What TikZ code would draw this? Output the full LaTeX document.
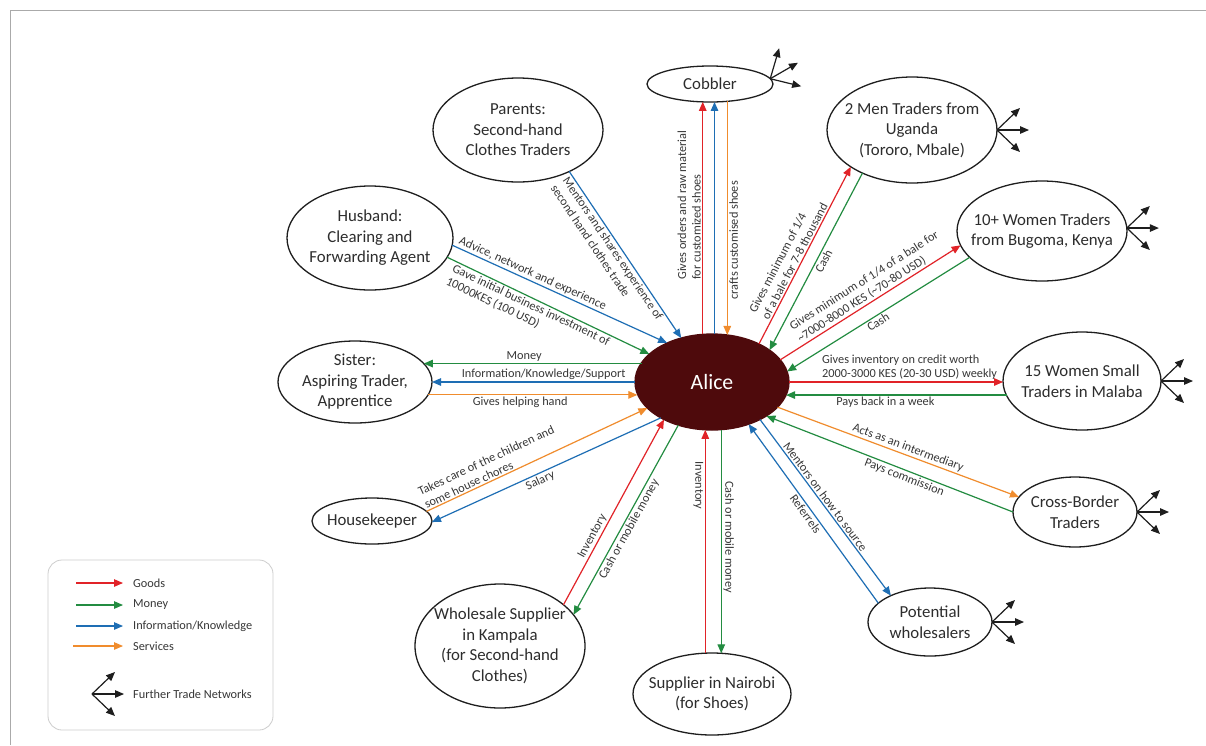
\documentclass[tikz,border=0pt]{standalone}
\usepackage{fontspec}
\setmainfont{Carlito}
\usetikzlibrary{arrows.meta,shapes.geometric,calc}
\definecolor{cgoods}{RGB}{225,35,40}
\definecolor{cmoney}{RGB}{35,140,65}
\definecolor{cinfo}{RGB}{30,110,180}
\definecolor{cserv}{RGB}{240,140,45}
\definecolor{calice}{RGB}{78,10,12}
\definecolor{ctext}{RGB}{45,45,45}
\definecolor{clab}{RGB}{55,55,55}
\definecolor{cframe}{RGB}{170,170,170}
\definecolor{clegend}{RGB}{205,205,205}
\definecolor{coutline}{RGB}{30,30,30}
\tikzset{
  actor/.style={ellipse, draw=coutline, line width=1.3pt, inner xsep=-40pt, inner ysep=-25pt,
    outer sep=0pt, align=center, text=ctext, font=\fontsize{16.8}{20.5}\selectfont},
  flow/.style={line width=1.2pt, -{Triangle[length=9pt,width=7.5pt]}},
  rflow/.style={line width=1.2pt, {Triangle[length=9pt,width=7.5pt]}-},
  goods/.style={draw=cgoods},
  money/.style={draw=cmoney},
  info/.style={draw=cinfo},
  serv/.style={draw=cserv},
  lab/.style={font=\fontsize{12.3}{14.5}\selectfont, text=clab, inner sep=1.5pt},
  slab/.style={lab, sloped},
  fanarrow/.style={line width=1.2pt, draw=coutline, -{Triangle[length=9pt,width=7.5pt]}},
  legtext/.style={font=\fontsize{12.3}{14.5}\selectfont, text=clab, inner sep=0pt, anchor=west},
  fan/.pic={
    \draw[fanarrow] (0,0) -- (23,-22);
    \draw[fanarrow] (0,0) -- (32,0);
    \draw[fanarrow] (0,0) -- (23,22);
  }
}
\begin{document}
\begin{tikzpicture}[x=1pt,y=-1pt]
\useasboundingbox (0,0) rectangle (1206,745);
\fill[white] (0,0) rectangle (1206,745);
\draw[cframe, line width=1pt] (10,745) -- (10,10) -- (1206,10);

% actors
\node[actor, fill=calice, draw=calice, text=white, font=\fontsize{21.8}{26}\selectfont,
      minimum width=154, minimum height=96] (alice) at (712,382) {Alice};
\node[actor, minimum width=126, minimum height=36] (cobbler) at (710,84) {Cobbler};
\node[actor, minimum width=170, minimum height=104] (parents) at (518,130) {Parents:\\Second-hand\\Clothes Traders};
\node[actor, minimum width=166, minimum height=104] (husband) at (370,238) {Husband:\\Clearing and\\Forwarding Agent};
\node[actor, minimum width=154, minimum height=82] (sister) at (355,382) {Sister:\\Aspiring Trader,\\Apprentice};
\node[actor, minimum width=120, minimum height=46] (housek) at (372,521) {Housekeeper};
\node[actor, minimum width=170, minimum height=124] (kampala) at (500,646) {Wholesale Supplier\\in Kampala\\(for Second-hand\\Clothes)};
\node[actor, minimum width=158, minimum height=82] (nairobi) at (712,694) {Supplier in Nairobi\\(for Shoes)};
\node[actor, minimum width=124, minimum height=68] (potential) at (930,622) {Potential\\wholesalers};
\node[actor, minimum width=124, minimum height=70] (cross) at (1075,512) {Cross-Border\\Traders};
\node[actor, minimum width=158, minimum height=98] (malaba) at (1082,381) {15 Women Small\\Traders in Malaba};
\node[actor, minimum width=170, minimum height=100] (bugoma) at (1042,231) {10+ Women Traders\\from Bugoma, Kenya};
\node[actor, minimum width=170, minimum height=106] (uganda) at (912,130) {2 Men Traders from\\Uganda\\(Tororo, Mbale)};

% further trade networks
\pic[rotate=30] at (cobbler.5) {fan};
\pic at (uganda.east) {fan};
\pic at (bugoma.2) {fan};
\pic at (malaba.east) {fan};
\pic at (cross.east) {fan};
\pic at (potential.east) {fan};

% Cobbler
\draw[flow,goods] (alice.101.87) -- (alice.101.87 |- cobbler.-114.14)
  node[lab, pos=0.556, rotate=90, anchor=south, align=left] {Gives orders and raw material\\for customized shoes};
\draw[flow,info] (alice.87.6) -- (alice.87.6 |- cobbler.-77.4);
\draw[rflow,serv] (alice.72.33) -- (alice.72.33 |- cobbler.-45.55)
  node[lab, pos=0.405, rotate=90, anchor=north] {crafts customised shoes};

% Parents
\draw[flow,info] (parents.-39.6) -- (alice.125.4)
  node[slab, pos=0.44, below, align=left] {Mentors and shares experience of\\second hand clothes trade};

% Husband
\draw[flow,info] (husband.-5) -- (alice.139.1)
  node[slab, pos=0.36, above] {Advice, network and experience};
\draw[flow,money] (husband.-14.6) -- (alice.156)
  node[slab, pos=0.43, below, align=left] {Gave initial business investment of\\10000KES (100 USD)};

% Sister
\draw[rflow,money] (sister.15.57) -- (sister.15.57 -| alice.164.96)
  node[lab, pos=0.46, above] {Money};
\draw[rflow,info] (sister.-0.74) -- (sister.-0.74 -| alice.180.74)
  node[lab, pos=0.55, above] {Information/Knowledge/Support};
\draw[flow,serv] (sister.-10.1) -- (sister.-10.1 -| alice.189.95)
  node[lab, pos=0.44, below] {Gives helping hand};

% Housekeeper
\draw[flow,serv] (housek.10.7) -- (alice.202.6)
  node[slab, pos=0.31, above, align=left] {Takes care of the children and\\some house chores};
\draw[rflow,info] (housek.-1) -- (alice.215.8)
  node[slab, pos=0.46, below] {Salary};

% Kampala
\draw[flow,goods] (kampala.33.5) -- (alice.218.7)
  node[slab, pos=0.35, above] {Inventory};
\draw[rflow,money] (kampala.23) -- (alice.232.9)
  node[slab, pos=0.47, below] {Cash or mobile money};

% Nairobi
\draw[rflow,goods] (alice.262.85) -- (alice.262.85 |- nairobi.98.35)
  node[lab, pos=0.25, rotate=-90, anchor=north] {Inventory};
\draw[flow,money] (alice.281.9) -- (alice.281.9 |- nairobi.76.2)
  node[lab, pos=0.48, rotate=-90, anchor=south] {Cash or mobile money};

% Potential wholesalers
\draw[rflow,info] (alice.-49.8) -- (potential.160.9)
  node[slab, pos=0.48, below] {Referrels};
\draw[flow,info] (alice.-38.7) -- (potential.146.6)
  node[slab, pos=0.46, above] {Mentors on how to source};

% Cross-border
\draw[flow,serv] (alice.-21.7) -- (cross.165.3)
  node[slab, pos=0.53, above] {Acts as an intermediary};
\draw[rflow,money] (alice.-32.7) -- (cross.180)
  node[slab, pos=0.57, below] {Pays commission};

% Malaba
\draw[flow,goods] (alice.-0.74) -- (alice.-0.74 -| malaba.181.45)
  node[lab, pos=0.145, anchor=south west, align=left] {Gives inventory on credit worth\\2000-3000 KES (20-30 USD) weekly};
\draw[rflow,money] (alice.-10.76) -- (alice.-10.76 -| malaba.191.3)
  node[lab, pos=0.45, below] {Pays back in a week};

% Bugoma
\draw[flow,goods] (alice.18.2) -- (bugoma.190.6)
  node[slab, pos=0.53, above, align=left] {Gives minimum of 1/4 of a bale for\\\textasciitilde 7000-8000 KES (\textasciitilde 70-80 USD)};
\draw[rflow,money] (alice.8.6) -- (bugoma.200.7)
  node[slab, pos=0.48, below] {Cash};

% Uganda
\draw[flow,goods] (alice.39.2) -- (uganda.211.5)
  node[slab, pos=0.45, above, align=left] {Gives minimum of 1/4\\of a bale for 7-8 thousand};
\draw[rflow,money] (alice.29.8) -- (uganda.221.3)
  node[slab, pos=0.52, below] {Cash};

% Legend
\node[draw=clegend, line width=0.8pt, rounded corners=14pt, minimum width=225, minimum height=170, inner sep=0pt] (legend) at (160.5,645) {};
\node[legtext] (lgoods) at (133,583) {Goods};
\node[legtext] (lmoney) at (133,605) {Money};
\node[legtext] (linfo) at (133,626) {Information/Knowledge};
\node[legtext] (lserv) at (133,646) {Services};
\node[legtext] (lfan) at (133,694) {Further Trade Networks};
\draw[flow,goods] ($(lgoods.west)+(-57,0)$) -- ($(lgoods.west)+(-10,0)$);
\draw[flow,money] ($(lmoney.west)+(-57,0)$) -- ($(lmoney.west)+(-10,0)$);
\draw[flow,info] ($(linfo.west)+(-57,0)$) -- ($(linfo.west)+(-10,0)$);
\draw[flow,serv] ($(lserv.west)+(-60,0)$) -- ($(lserv.west)+(-10,0)$);
\pic at ($(lfan.west)+(-41,0)$) {fan};
\end{tikzpicture}
\end{document}
